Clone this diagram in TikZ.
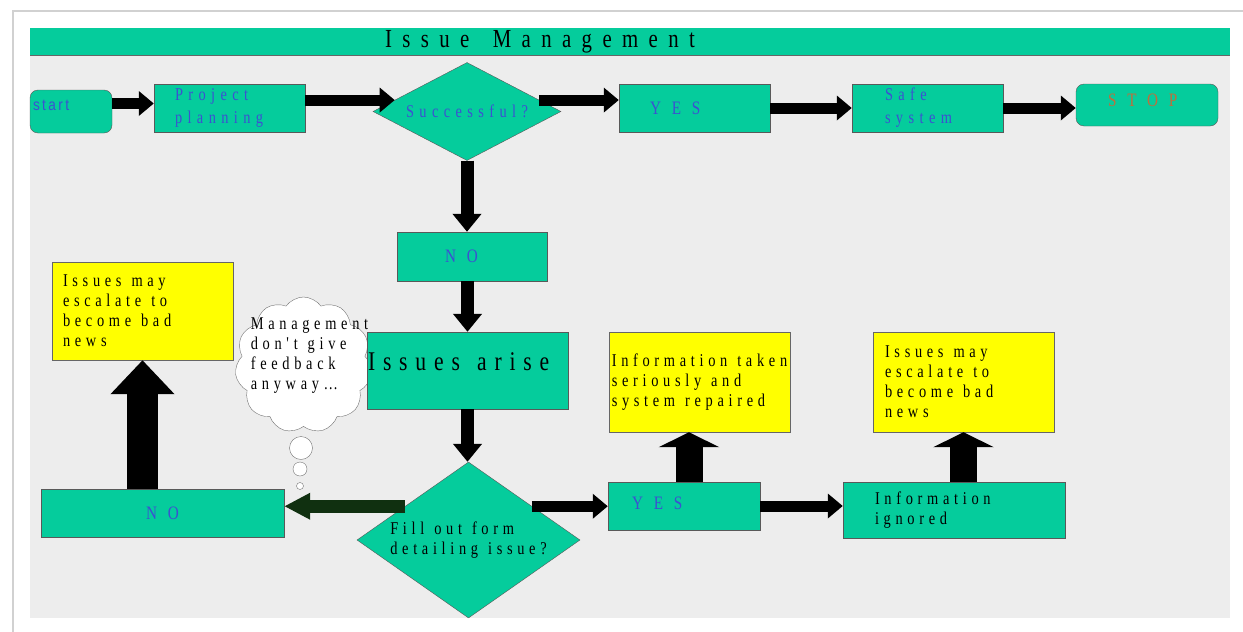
\documentclass[tikz,border=0pt]{standalone}
\usepackage{fontspec}
\usetikzlibrary{arrows.meta,shapes.geometric,shapes.symbols}
\setmainfont{Liberation Serif}
\newfontfamily\flowfont[LetterSpace=26,FakeStretch=0.8,WordSpace=1.2]{Liberation Serif}
\newfontfamily\bluefamily[LetterSpace=30,FakeStretch=0.8,WordSpace=1.2]{Liberation Serif}
\newfontfamily\capsfamily[LetterSpace=57,FakeStretch=0.8]{Liberation Serif}
\newfontfamily\arisefamily[LetterSpace=29,FakeStretch=0.8,WordSpace=1.3]{Liberation Serif}
\newfontfamily\titlefamily[LetterSpace=40,FakeStretch=0.8,WordSpace=1.5]{Liberation Serif}
\newfontfamily\startfamily[LetterSpace=15,FakeStretch=0.85]{Liberation Sans}
\newcommand\notefont{\flowfont\fontsize{18}{20}\selectfont}
\newcommand\bluefont{\bluefamily\fontsize{18}{23}\selectfont}
\newcommand\capsfont{\capsfamily\fontsize{19}{20}\selectfont}
\newcommand\arisefont{\arisefamily\fontsize{27}{28}\selectfont}
\definecolor{flowgreen}{RGB}{5,204,156}
\definecolor{flowyellow}{RGB}{255,255,0}
\definecolor{flowblue}{RGB}{60,80,210}
\definecolor{stopbrown}{RGB}{190,110,60}
\definecolor{backgreen}{RGB}{16,48,16}
\definecolor{panelgray}{RGB}{237,237,237}

\begin{document}
\begin{tikzpicture}[x=1pt,y=-1pt,
  procbox/.style={draw=black!65,fill=flowgreen,inner ysep=0pt,align=flush left},
  notebox/.style={draw=black!60,fill=flowyellow,inner ysep=0pt,align=flush left,font=\notefont},
  decide/.style={diamond,draw=black!65,fill=flowgreen,inner sep=-12pt,align=left},
  thought/.style={cloud,cloud puffs=11,cloud puff arc=110,draw=black!55,fill=white,inner sep=0pt},
  bubble/.style={circle,draw=black!55,fill=white,inner sep=0pt},
  flowarrow/.style={line width=11pt,-{Triangle[length=15pt,width=24pt]}},
  vflowarrow/.style={line width=13pt,-{Triangle[length=18pt,width=28pt]}},
  backarrow/.style={draw=backgreen,line width=13pt,-{Triangle[length=26pt,width=25pt]}},
  bigarrow/.style={line width=31pt,-{Triangle[length=34pt,width=62pt]}},
  uparrow/.style={line width=27pt,-{Triangle[length=15pt,width=60pt]}}]
  \useasboundingbox (0,0) rectangle (1243,632);
  \draw[black!18,line width=2pt] (13,632) -- (13,11) -- (1243,11);
  \fill[panelgray] (30,55) rectangle (1230,618);
  \fill[flowgreen] (30,28) rectangle (1230,55);
  \draw[black!60] (30,55) -- (1230,55);
  \node[font=\titlefamily\fontsize{26}{26}\selectfont] (title) at (540,42) {Issue Management};

  % top row
  \node[procbox,rounded corners=8pt,minimum height=43pt,text width=76pt,inner xsep=3pt,text depth=13pt,
        font=\startfamily\fontsize{16}{16}\selectfont,text=flowblue] (start) at (71,111.5) {start};
  \node[procbox,minimum height=48pt,text width=109pt,inner xsep=21pt,font=\bluefont,text=flowblue] (plan) at (229.5,108) {Project\\planning};
  \node[decide,aspect=1.9,minimum width=188pt,minimum height=98pt,font=\bluefont,text=flowblue] (succ) at (467,111.5) {Successful?};
  \node[procbox,minimum height=48pt,text width=89pt,inner xsep=31pt,font=\capsfont,text=flowblue] (yes1) at (694.5,108) {YES};
  \node[procbox,minimum height=48pt,text width=85pt,inner xsep=33pt,font=\bluefont,text=flowblue] (safe) at (927.5,108) {Safe\\system};
  \node[procbox,rounded corners=8pt,minimum height=42pt,text width=78pt,inner xsep=32pt,text depth=10pt,
        font=\capsfont,text=stopbrown] (stop) at (1147,105) {STOP};

  % middle column
  \node[procbox,minimum height=49pt,text width=54pt,inner xsep=48pt,font=\capsfont,text=flowblue] (no1) at (472,256.5) {NO};
  \node[thought,minimum width=137pt,minimum height=136pt] (cloud) at (303.5,365) {};
  \node[procbox,minimum height=77pt,text width=199pt,inner xsep=1pt,text depth=17pt,font=\arisefont] (arise) at (467.5,370.5) {Issues~arise};
  \node[font=\notefont,align=left] (cloudtext) at (309.5,355.5) {Management\\don't give\\feedback\\anyway\dots};
  \node[bubble,minimum size=23pt] (b1) at (301,448) {};
  \node[bubble,minimum size=14pt] (b2) at (300,469) {};
  \node[bubble,minimum size=7pt] (b3) at (300,486) {};
  \node[decide,aspect=1.43,minimum width=223pt,minimum height=156pt,font=\notefont] (fill) at (468.5,540) {Fill out form\\detailing issue?};

  % left branch
  \node[procbox,minimum width=243pt,minimum height=48pt,font=\capsfont,text=flowblue,align=center] (no2) at (162.5,513) {NO};
  \node[notebox,minimum height=98pt,text width=159pt,inner xsep=11pt] (esc1) at (142.5,311) {Issues may\\escalate to\\become bad\\news};

  % right branch
  \node[procbox,minimum height=48pt,text width=104pt,inner xsep=24pt,text depth=6pt,font=\capsfont,text=flowblue] (yes2) at (684,506) {YES};
  \node[notebox,minimum width=181pt,minimum height=100pt,inner xsep=0pt] (info) at (699.5,382) {Information taken\\seriously and\\system repaired};
  \node[procbox,minimum height=56pt,text width=158pt,inner xsep=32pt,font=\notefont] (ign) at (954,510) {Information\\ignored};
  \node[notebox,minimum height=100pt,text width=157pt,inner xsep=12pt] (esc2) at (963.5,382) {Issues may\\escalate to\\become bad\\news};

  \draw[flowarrow] ([yshift=8pt]start.east) -- ([yshift=8pt]start.east -| plan.west);
  \draw[flowarrow] (plan.east |- succ.171) -- (succ.171);
  \draw[flowarrow] (succ.9) -- (succ.9 -| yes1.west);
  \draw[flowarrow] (yes1) -- (safe);
  \draw[flowarrow] (safe.east) -- (safe.east -| stop.west);
  \draw[vflowarrow] (succ.south) -- (succ.south |- no1.north);
  \draw[vflowarrow] (arise.north |- no1.south) -- (arise.north);
  \draw[vflowarrow] (arise.south) -- (arise.south |- fill.north);
  \draw[backarrow] (fill.152) -- (fill.152 -| no2.east);
  \draw[bigarrow] (esc1.south |- no2.north) -- (esc1.south);
  \draw[flowarrow] (fill.28) -- (fill.28 -| yes2.west);
  \draw[uparrow] ([xshift=5pt]yes2.north) -- ([xshift=5pt]yes2.north |- info.south);
  \draw[flowarrow] (yes2.east) -- (yes2.east -| ign.west);
  \draw[uparrow] (esc2.south |- ign.north) -- (esc2.south);
\end{tikzpicture}
\end{document}
